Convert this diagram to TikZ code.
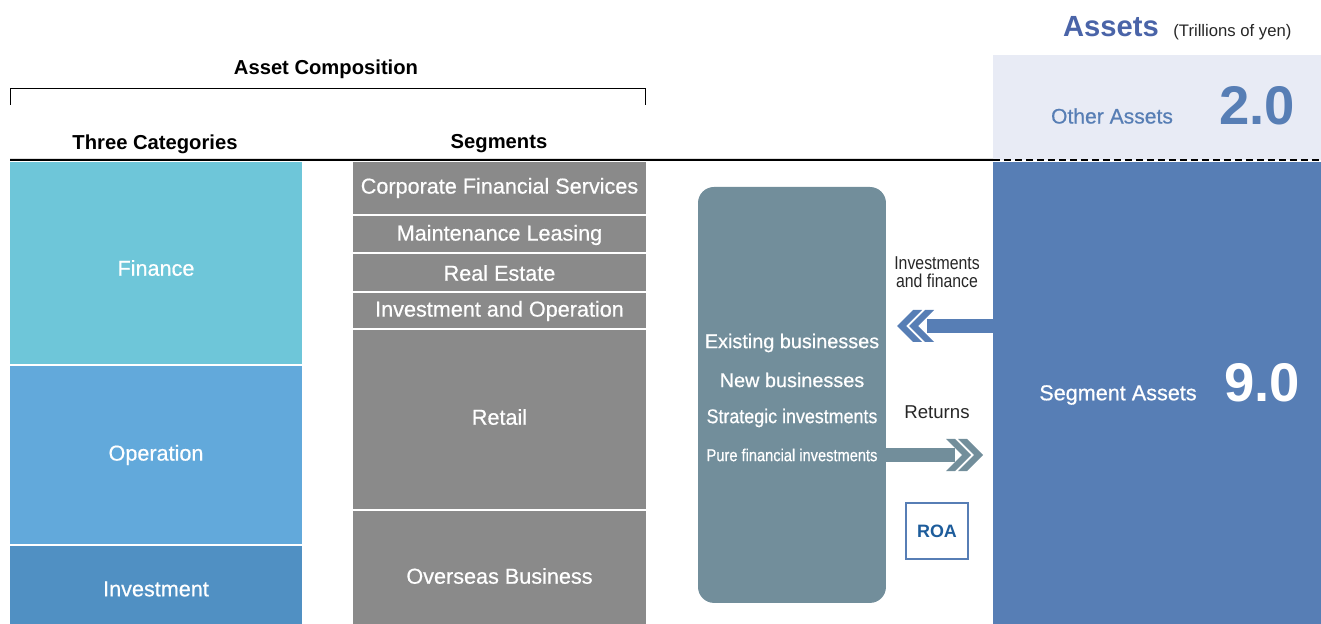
\documentclass[tikz,border=0pt]{standalone}
\usepackage{fontspec}
\setmainfont{Liberation Sans}
\newfontfamily\medium{Liberation Sans}[RawFeature={embolden=0.6}]
\usepackage{graphicx}

\definecolor{finblue}{HTML}{6EC6D9}
\definecolor{opblue}{HTML}{62A9DB}
\definecolor{invblue}{HTML}{5090C3}
\definecolor{seggray}{HTML}{8A8A8A}
\definecolor{bizgray}{HTML}{728E9B}
\definecolor{assetblue}{HTML}{577EB5}
\definecolor{otherbg}{HTML}{E8EBF5}
\definecolor{titleblue}{HTML}{4A64A8}
\definecolor{roablue}{HTML}{1D5C9B}

\newcommand{\cond}[2][0.85]{\scalebox{#1}[1]{#2}}

\begin{document}
\begin{tikzpicture}
  [x=0.02cm,y=-0.02cm
  ,cat/.style={text=white,font=\medium\fontsize{12.3}{14}\selectfont}
  ,head/.style={font=\bfseries\fontsize{11.5}{14}\selectfont}
  ,biztext/.style={text=white,font=\medium\fontsize{11.3}{13}\selectfont}
  ,small/.style={text=black!85,font=\fontsize{10.6}{12.6}\selectfont,align=center}
  ,panel/.style={inner sep=0pt,outer sep=0pt,anchor=north west}
  ]

  \useasboundingbox (0,0) rectangle (1321,624);

  % Column block
  %
  % #1 - left
  % #2 - right
  % #3 - top
  % #4 - bottom
  % #5 - color
  % #6 - name
  % #7 - text y
  % #8 - text
  \newcommand{\colblock}[8]{
    \path[fill=#5] (#1,#3) rectangle (#2,#4);
    \node[cat] (#6) at ({(#1+#2)/2},#7) {#8};
  }

  % Double chevron
  %
  % #1 - tip x
  % #2 - y
  % #3 - direction (1 right, -1 left)
  % #4 - color
  \newcommand{\dchev}[4]{
    \foreach \k in {0,1}
      \fill[#4] ({#1-#3*12*\k},#2) -- ++({-#3*16},-16) -- ++({-#3*9},0)
        -- ++({#3*16},16) -- ++({-#3*16},16) -- ++({#3*9},0) -- cycle;
  }

  % headings
  \node[head] (comp) at (326,69) {Asset Composition};
  \draw[line width=0.02cm] (10,105) -- (10,89) -- (645,89) -- (645,105);
  \node[head] (three) at (155,144) {Three Categories};
  \node[head] (segs) at (499,144) {Segments};

  % three categories
  \colblock{10}{302}{162}{364}{finblue}{fin}{268}{Finance}
  \colblock{10}{302}{366}{544}{opblue}{op}{455}{Operation}
  \colblock{10}{302}{546}{624}{invblue}{inv}{589}{Investment}

  % segments
  \colblock{353}{646}{162}{214}{seggray}{cfs}{188}{Corporate Financial Services}
  \colblock{353}{646}{216}{252}{seggray}{ml}{235}{Maintenance Leasing}
  \colblock{353}{646}{254}{291}{seggray}{re}{273}{Real Estate}
  \colblock{353}{646}{293}{328}{seggray}{io}{311}{Investment and Operation}
  \colblock{353}{646}{330}{509}{seggray}{ret}{417}{Retail}
  \colblock{353}{646}{511}{624}{seggray}{ovs}{576}{Overseas Business}

  % assets
  \node[anchor=base east,text=titleblue,font=\bfseries\fontsize{16.6}{20}\selectfont]
    (title) at (1165,37) {Assets};
  \node[anchor=base west,inner sep=0pt,text=black!85,font=\fontsize{9.5}{12}\selectfont]
    (unit) at (1173,37) {(Trillions of yen)};
  \node[panel,fill=otherbg,minimum width=6.56cm,minimum height=2.1cm] (otherbox) at (993,55) {};
  \node[text=assetblue,font=\medium\fontsize{12}{14}\selectfont] (other) at (1112,116) {Other Assets};
  \node[text=assetblue,font=\bfseries\fontsize{31}{34}\selectfont] (otherval) at (1257,106) {2.0};
  \node[panel,fill=assetblue,minimum width=6.56cm,minimum height=9.24cm] (segbox) at (993,162) {};
  \node[text=white,font=\medium\fontsize{12.3}{14}\selectfont] (segasset) at (1118,395) {Segment Assets};
  \node[text=white,font=\bfseries\fontsize{31}{34}\selectfont] (segval) at (1262,383) {9.0};

  % rules
  \draw[line width=0.04cm] (10,160) -- (otherbox.south west);
  \draw[line width=0.04cm,dash pattern=on 0.14cm off 0.08cm] (otherbox.south west) -- (otherbox.south east);

  % businesses
  \node[panel,fill=bizgray,rounded corners=0.32cm,minimum width=3.76cm,minimum height=8.32cm]
    (biz) at (698,187) {};
  \node[biztext] (exist) at (792,343) {Existing businesses};
  \node[biztext] (new) at (792,380) {New businesses};
  \node[biztext] (strat) at (792,418) {\cond[0.9]{Strategic investments}};
  \node[biztext,font=\medium\fontsize{9.8}{12}\selectfont] (pure) at (792,455) {\cond{Pure financial investments}};

  % investments and finance
  \node[small] (invfin) at (937,272) {\cond{Investments}\\[-2pt]\cond{and finance}};
  \draw[line width=0.28cm,assetblue] (segbox.west |- 0,326) -- (927,326);
  \dchev{897}{326}{-1}{assetblue}

  % returns
  \node[small] (ret) at (937,412) {Returns};
  \draw[line width=0.28cm,bizgray] (biz.east |- 0,455) -- (955,455);
  \dchev{983}{455}{1}{bizgray}

  \node[draw=assetblue,line width=0.04cm,minimum width=1.24cm,minimum height=1.12cm,
    text=roablue,font=\bfseries\fontsize{10.2}{12}\selectfont] (roa) at (937,531) {ROA};

\end{tikzpicture}
\end{document}
